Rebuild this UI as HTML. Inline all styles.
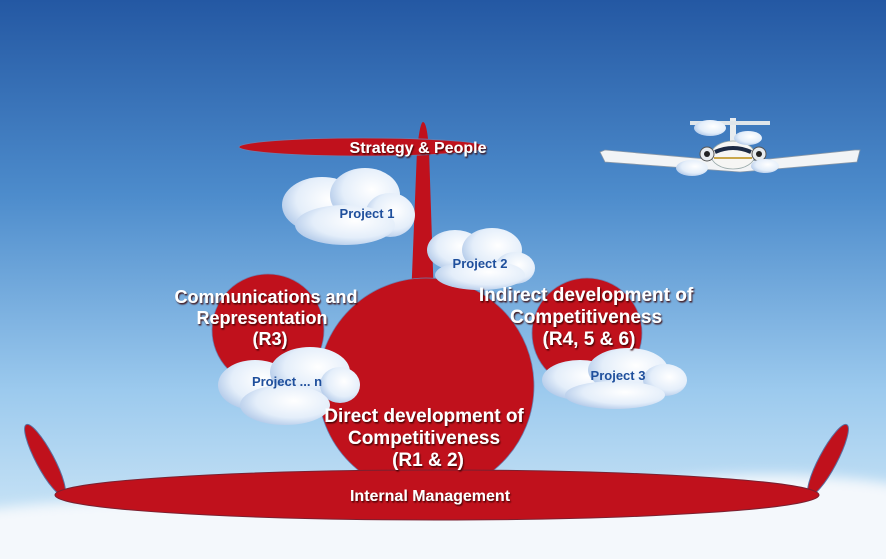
<!DOCTYPE html>
<html><head><meta charset="utf-8"><style>
html,body{margin:0;padding:0;width:886px;height:559px;overflow:hidden}
svg{display:block}
text{font-family:"Liberation Sans",sans-serif;font-weight:bold}
.w{fill:#fff;filter:url(#sh)}
.p{fill:#1f4f9c;font-size:13px}
</style></head><body>
<svg width="886" height="559" viewBox="0 0 886 559" xmlns="http://www.w3.org/2000/svg" overflow="hidden">
<defs>
<linearGradient id="sky" x1="0" y1="0" x2="0" y2="1">
<stop offset="0" stop-color="#2458a3"/>
<stop offset="0.35" stop-color="#4d8ccc"/>
<stop offset="0.7" stop-color="#9ccaee"/>
<stop offset="1" stop-color="#d6ebf8"/>
</linearGradient>
<radialGradient id="cl" cx="0.6" cy="0.4" r="0.7">
<stop offset="0" stop-color="#ffffff"/>
<stop offset="0.6" stop-color="#e4eefa"/>
<stop offset="1" stop-color="#a9c3e6"/>
</radialGradient>
<filter id="sh"><feDropShadow dx="1" dy="1.5" stdDeviation="0.8" flood-color="#3a0000" flood-opacity="0.9"/></filter>
<filter id="bl" x="-10%" y="-50%" width="120%" height="200%"><feGaussianBlur stdDeviation="6"/></filter>
</defs>
<rect width="886" height="559" fill="url(#sky)"/>
<g filter="url(#bl)" fill="#f4f8fc">
<ellipse cx="150" cy="545" rx="260" ry="45"/>
<ellipse cx="450" cy="550" rx="320" ry="45"/>
<ellipse cx="770" cy="530" rx="220" ry="55"/>
<rect x="0" y="530" width="886" height="29"/>
</g>
<g>
<path d="M600 152 L605 150 L740 162 L855 150 L860 150 L857 162 L740 172 L605 162 Z" fill="#f2f4f6" stroke="#8a98a8" stroke-width="0.8"/>
<rect x="730" y="118" width="6" height="30" fill="#e8ecef"/>
<path d="M690 121 L770 121 L770 125 L690 125Z" fill="#dfe5ea"/>
<ellipse cx="733" cy="155" rx="22" ry="14" fill="#f6f6f4" stroke="#9aa" stroke-width="0.8"/>
<path d="M715 152 Q733 144 751 152" stroke="#1c2a44" stroke-width="4" fill="none"/>
<path d="M714 158 L752 158" stroke="#c9a64a" stroke-width="2"/>
<circle cx="707" cy="154" r="7" fill="#e8ecef" stroke="#555" stroke-width="1"/><circle cx="707" cy="154" r="3" fill="#222"/>
<circle cx="759" cy="154" r="7" fill="#e8ecef" stroke="#555" stroke-width="1"/><circle cx="759" cy="154" r="3" fill="#222"/>
<g fill="url(#cl)"><ellipse cx="710" cy="128" rx="16" ry="8"/><ellipse cx="748" cy="138" rx="14" ry="7"/><ellipse cx="692" cy="168" rx="16" ry="8"/><ellipse cx="765" cy="166" rx="14" ry="7"/></g>
</g>
<ellipse cx="45" cy="460" rx="9" ry="40" transform="rotate(-28 45 460)" fill="#c0111c" stroke="#5a6fa0" stroke-width="1"/>
<ellipse cx="828" cy="460" rx="9" ry="40" transform="rotate(28 828 460)" fill="#c0111c" stroke="#5a6fa0" stroke-width="1"/>
<path d="M411 300 L417 150 Q420 122 423 122 Q427 122 429 150 L434 300 Z" fill="#c0111c"/>
<ellipse cx="363" cy="147" rx="124" ry="9" fill="#c0111c" stroke="#6a7fb0" stroke-width="0.8"/>
<circle cx="268" cy="330" r="56" fill="#c0111c" stroke="#6a7fb0" stroke-width="0.8"/>
<circle cx="587" cy="333" r="55" fill="#c0111c" stroke="#6a7fb0" stroke-width="0.8"/>
<circle cx="426" cy="386" r="108" fill="#c0111c" stroke="#6a7fb0" stroke-width="0.8"/>
<ellipse cx="437" cy="495" rx="382" ry="25" fill="#c0111c" stroke="#7a2030" stroke-width="1"/>
<g fill="url(#cl)">
<g><ellipse cx="322" cy="205" rx="40" ry="28"/><ellipse cx="365" cy="195" rx="35" ry="27"/><ellipse cx="390" cy="215" rx="25" ry="22"/><ellipse cx="345" cy="225" rx="50" ry="20"/></g>
<g><ellipse cx="455" cy="250" rx="28" ry="20"/><ellipse cx="492" cy="250" rx="30" ry="22"/><ellipse cx="515" cy="268" rx="20" ry="16"/><ellipse cx="480" cy="275" rx="45" ry="15"/></g>
<g><ellipse cx="255" cy="385" rx="37" ry="25"/><ellipse cx="310" cy="372" rx="40" ry="25"/><ellipse cx="340" cy="385" rx="20" ry="18"/><ellipse cx="285" cy="405" rx="45" ry="20"/></g>
<g><ellipse cx="580" cy="380" rx="38" ry="20"/><ellipse cx="628" cy="370" rx="40" ry="22"/><ellipse cx="665" cy="380" rx="22" ry="16"/><ellipse cx="615" cy="395" rx="50" ry="14"/></g>
</g>
<text x="418" y="153" text-anchor="middle" class="w" font-size="16">Strategy &amp; People</text>
<text x="367" y="218" text-anchor="middle" class="p">Project 1</text>
<text x="480" y="268" text-anchor="middle" class="p">Project 2</text>
<text x="287" y="386" text-anchor="middle" class="p">Project ... n</text>
<text x="618" y="380" text-anchor="middle" class="p">Project 3</text>
<g class="w" text-anchor="middle">
<text x="266" y="303" font-size="18">Communications and</text>
<text x="262" y="324" font-size="18">Representation</text>
<text x="270" y="345" font-size="18">(R3)</text>
<text x="586" y="301" font-size="19">Indirect development of</text>
<text x="586" y="323" font-size="19">Competitiveness</text>
<text x="589" y="345" font-size="19">(R4, 5 &amp; 6)</text>
<text x="424" y="422" font-size="19">Direct development of</text>
<text x="424" y="444" font-size="19">Competitiveness</text>
<text x="428" y="466" font-size="19">(R1 &amp; 2)</text>
</g>
<text x="430" y="501" text-anchor="middle" class="w" font-size="16">Internal Management</text>
</svg>
</body></html>
